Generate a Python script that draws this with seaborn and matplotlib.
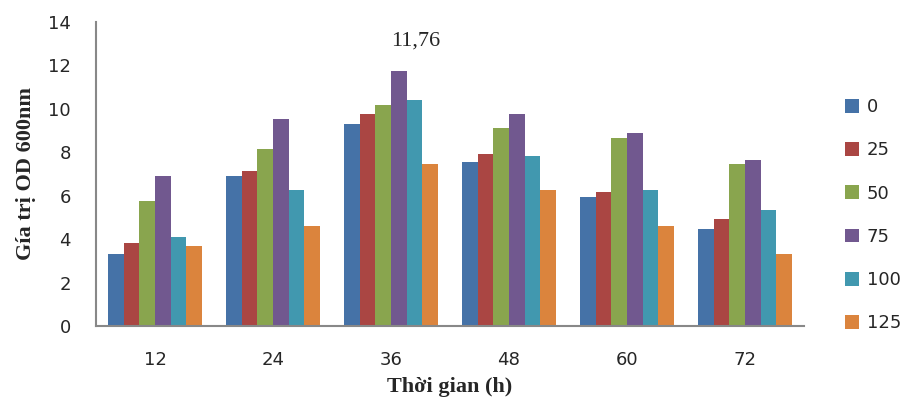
import matplotlib
matplotlib.use("Agg")
import matplotlib.pyplot as plt
import seaborn as sns
import pandas as pd

times = ["12", "24", "36", "48", "60", "72"]
concentrations = ["0", "25", "50", "75", "100", "125"]
v0 = [3.30, 6.92, 9.30, 7.56, 5.93, 4.46]
v25 = [3.80, 7.15, 9.77, 7.90, 6.18, 4.95]
v50 = [5.76, 8.13, 10.17, 9.11, 8.64, 7.48]
v75 = [6.92, 9.54, 11.76, 9.77, 8.88, 7.64]
v100 = [4.12, 6.25, 10.43, 7.81, 6.25, 5.35]
v125 = [3.70, 4.61, 7.48, 6.25, 4.61, 3.30]
colors = ["#4572A7", "#AA4643", "#89A54E", "#71588F", "#4198AF", "#DB843D"]
annot_label = "11,76"

series = [v0, v25, v50, v75, v100, v125]
rows = []
for c, vals in zip(concentrations, series):
    for t, v in zip(times, vals):
        rows.append({"time": t, "conc": c, "value": v})
df = pd.DataFrame(rows)

sns.set_style("white")
plt.rcParams["font.family"] = ["DejaVu Sans"]

fig = plt.figure(figsize=(9.08, 4.03), dpi=100)
ax = fig.add_axes([96/908, 1-326/403, (804-96)/908, (326-22)/403])

sns.barplot(data=df, x="time", y="value", hue="conc", order=times,
            hue_order=concentrations, palette=colors, width=0.8,
            linewidth=0, saturation=1, ax=ax)

ax.set_ylim(0, 14)
ax.set_xlim(-0.5, 5.5)
ax.set_yticks(range(0, 15, 2))
ax.tick_params(axis="y", direction="inout", length=12, width=1.2,
               color="#888888", labelsize=13, pad=12)
ax.tick_params(axis="x", length=0, labelsize=13, pad=18)
for s in ["top", "right"]:
    ax.spines[s].set_visible(False)
for s in ["left", "bottom"]:
    ax.spines[s].set_color("#888888")
    ax.spines[s].set_linewidth(1.5)

ax.set_xlabel("Thời gian (h)", family="Liberation Serif", fontweight="bold",
              fontsize=16, labelpad=6)
ax.set_ylabel("Gía trị OD 600nm", family="Liberation Serif", fontweight="bold",
              fontsize=16, labelpad=9)

# annotate the max bar (75 at 36h)
container = ax.containers[concentrations.index("75")]
patch = container.patches[times.index("36")]
ax.annotate(annot_label, xy=(patch.get_x() + patch.get_width() / 2, patch.get_height()),
            xytext=(12, 21), textcoords="offset points", ha="center", va="center",
            family="Liberation Serif", fontsize=16)

handles, labels = ax.get_legend_handles_labels()
ax.get_legend().remove()
fig.legend(handles, labels, loc="upper left", bbox_to_anchor=(845/908, 1-98/403),
           frameon=False, fontsize=13, handlelength=0.8, handleheight=0.8,
           handletextpad=0.4, labelspacing=1.4, borderpad=0, borderaxespad=0)

fig.savefig("out.png", dpi=100)
